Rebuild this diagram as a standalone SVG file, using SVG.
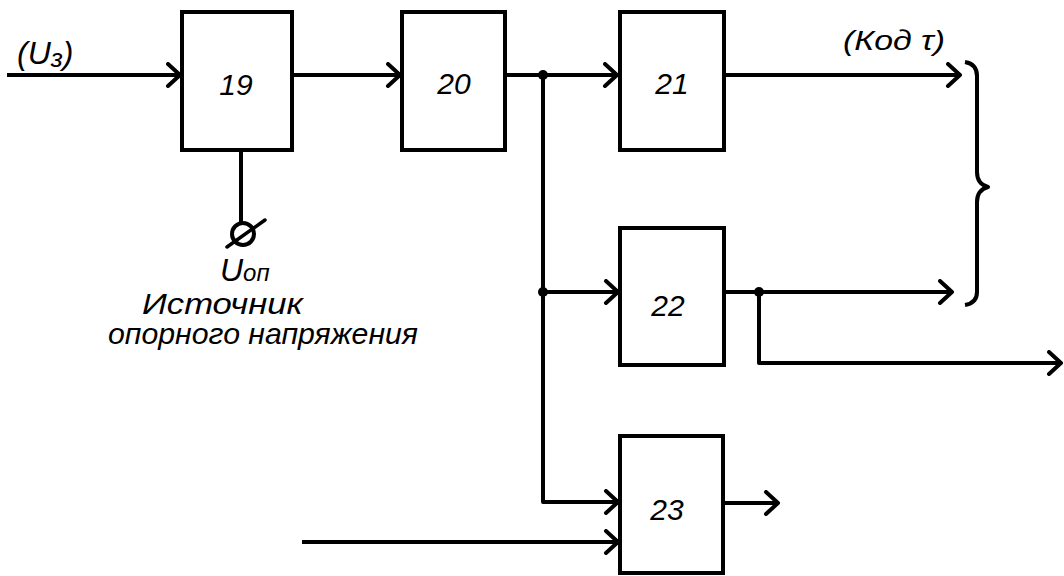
<svg xmlns="http://www.w3.org/2000/svg" width="1064" height="576" viewBox="0 0 1064 576">
<defs>
<style>
.box{fill:#fff;stroke:#000;stroke-width:4}
.ln{fill:none;stroke:#000;stroke-width:4;stroke-linejoin:round}
.num{font-family:"Liberation Sans",Arial,sans-serif;font-style:italic;font-size:30px;fill:#000;text-anchor:middle}
.lbl{font-family:"Liberation Sans",Arial,sans-serif;font-style:italic;fill:#000}
.dot{fill:#000}
</style>
<marker id="arr" markerUnits="userSpaceOnUse" markerWidth="20" markerHeight="26" refX="15" refY="13" orient="auto" viewBox="0 0 20 26">
<path d="M3,2 L15,13 L3,24" fill="none" stroke="#000" stroke-width="4" stroke-linecap="round" stroke-linejoin="round"/>
</marker>
</defs>
<g id="connectors">
<line class="ln" x1="7" y1="75" x2="180" y2="75" marker-end="url(#arr)"/>
<line class="ln" x1="292" y1="75" x2="400" y2="75" marker-end="url(#arr)"/>
<line class="ln" x1="505" y1="75" x2="617" y2="75" marker-end="url(#arr)"/>
<polyline class="ln" points="543,75 543,502 618,502" marker-end="url(#arr)"/>
<line class="ln" x1="543" y1="292" x2="618" y2="292" marker-end="url(#arr)"/>
<line class="ln" x1="302" y1="542" x2="618" y2="542" marker-end="url(#arr)"/>
<line class="ln" x1="724" y1="75" x2="960" y2="75" marker-end="url(#arr)"/>
<line class="ln" x1="724" y1="292" x2="952" y2="292" marker-end="url(#arr)"/>
<polyline class="ln" points="759,292 759,363 1061,363" marker-end="url(#arr)"/>
<line class="ln" x1="723" y1="503" x2="778" y2="503" marker-end="url(#arr)"/>
<line class="ln" x1="241" y1="150" x2="241" y2="222"/>
<circle class="dot" cx="543" cy="75" r="5"/>
<circle class="dot" cx="543" cy="292" r="5"/>
<circle class="dot" cx="759" cy="292" r="5"/>
</g>
<g id="node-19">
<rect class="box" x="182" y="12" width="110" height="138"/>
<text class="num" x="236" y="95">19</text>
</g>
<g id="node-20">
<rect class="box" x="402" y="12" width="103" height="138"/>
<text class="num" x="454" y="94">20</text>
</g>
<g id="node-21">
<rect class="box" x="620" y="12" width="104" height="138"/>
<text class="num" x="672" y="94">21</text>
</g>
<g id="node-22">
<rect class="box" x="620" y="228" width="104" height="137"/>
<text class="num" x="668" y="316">22</text>
</g>
<g id="node-23">
<rect class="box" x="620" y="436" width="103" height="137"/>
<text class="num" x="667" y="520">23</text>
</g>
<g id="terminal">
<circle cx="243" cy="234" r="11" fill="none" stroke="#000" stroke-width="4"/>
<line x1="227" y1="247" x2="265" y2="220" stroke="#000" stroke-width="3.5" stroke-linecap="round"/>
</g>
<g id="brace">
<path class="ln" d="M965,62 Q977,64 977,76 L977,172 Q977,184 988,187 Q977,190 977,202 L977,292 Q977,303 965,305"/>
</g>
<g id="labels">
<text class="lbl" x="17" y="64" style="font-size:32px">(U<tspan style="font-size:26px" dy="3">з</tspan><tspan dy="-3">)</tspan></text>
<text class="lbl" x="843" y="50" style="font-size:28px" textLength="102" lengthAdjust="spacingAndGlyphs">(Код τ)</text>
<text class="lbl" x="220" y="281" style="font-size:32px">U<tspan style="font-size:24px">оп</tspan></text>
<text class="lbl" x="142" y="314" style="font-size:30px" textLength="161" lengthAdjust="spacingAndGlyphs">Источник</text>
<text class="lbl" x="108" y="344" style="font-size:30px" textLength="310" lengthAdjust="spacingAndGlyphs">опорного напряжения</text>
</g>
</svg>
